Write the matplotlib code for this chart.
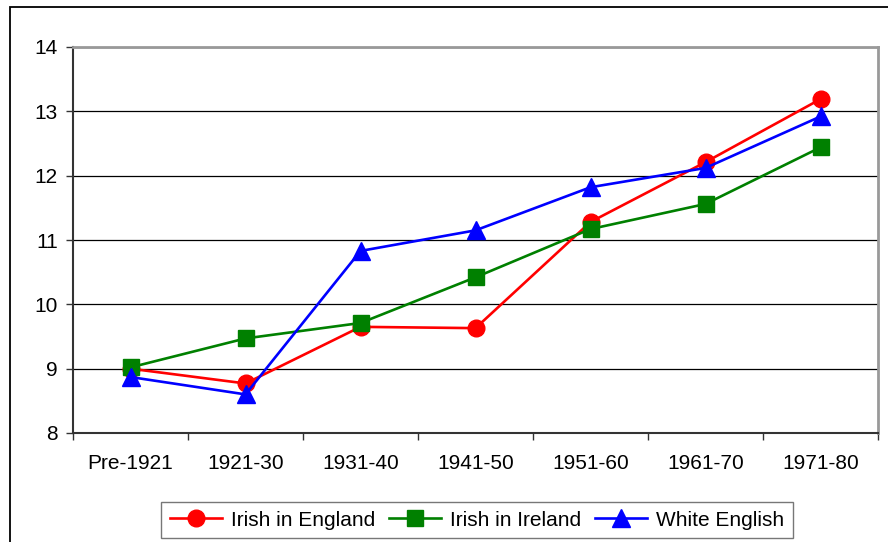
import matplotlib
matplotlib.use("Agg")
import matplotlib.pyplot as plt
from matplotlib.patches import Rectangle
from matplotlib.ticker import MultipleLocator, FixedLocator

plt.rcParams['font.family'] = ['Liberation Sans', 'DejaVu Sans']

# Data
periods = ["Pre-1921", "1921-30", "1931-40", "1941-50", "1951-60", "1961-70", "1971-80"]
irish_in_england = [9.00, 8.77, 9.65, 9.63, 11.28, 12.21, 13.19]
irish_in_ireland = [9.02, 9.47, 9.71, 10.42, 11.17, 11.56, 12.44]
white_english = [8.87, 8.60, 10.83, 11.15, 11.82, 12.12, 12.92]

fig = plt.figure(figsize=(8.88, 5.42), dpi=100)
ax = fig.add_axes([73 / 888, 1 - 433 / 542, 805 / 888, 386 / 542])

x = list(range(len(periods)))
ax.plot(x, irish_in_england, color="#FF0000", lw=1.9, marker="o", ms=12, label="Irish in England")
ax.plot(x, irish_in_ireland, color="#008000", lw=1.9, marker="s", ms=11, label="Irish in Ireland")
ax.plot(x, white_english, color="#0000FF", lw=1.9, marker="^", ms=12.5, label="White English")

ax.set_xlim(-0.5, len(periods) - 0.5)
ax.set_ylim(8, 14)
ax.yaxis.set_major_locator(MultipleLocator(1))
ax.grid(axis="y", color="black", lw=0.9)
ax.set_axisbelow(True)

ax.set_xticks(x)
ax.set_xticklabels(periods)
ax.xaxis.set_minor_locator(FixedLocator([i - 0.5 for i in range(len(periods) + 1)]))
ax.tick_params(axis="x", which="major", length=0, pad=15, labelsize=15)
ax.tick_params(axis="x", which="minor", length=5, width=1, direction="out", color="#333333")
ax.tick_params(axis="y", length=5, width=1, direction="out", pad=6, labelsize=15, color="#333333")

for side in ["top", "right"]:
    ax.spines[side].set_color("#999999")
    ax.spines[side].set_linewidth(2)
for side in ["left", "bottom"]:
    ax.spines[side].set_color("#333333")
    ax.spines[side].set_linewidth(1.5)

leg = fig.legend(loc="center", bbox_to_anchor=(477 / 888, 22 / 542), ncol=3,
                 fontsize=15, frameon=True, fancybox=False, edgecolor="#555555",
                 handlelength=2.5, handletextpad=0.45, columnspacing=0.65,
                 borderpad=0.4, borderaxespad=0)
leg.get_frame().set_linewidth(1)

# outer chart border (partially cut off on right and bottom)
fig.patches.append(Rectangle((10 / 888, -0.1), 1.2, 1.1 - 7 / 542, transform=fig.transFigure,
                             fill=False, edgecolor="black", lw=1.3))

fig.savefig("out.png", dpi=100)
